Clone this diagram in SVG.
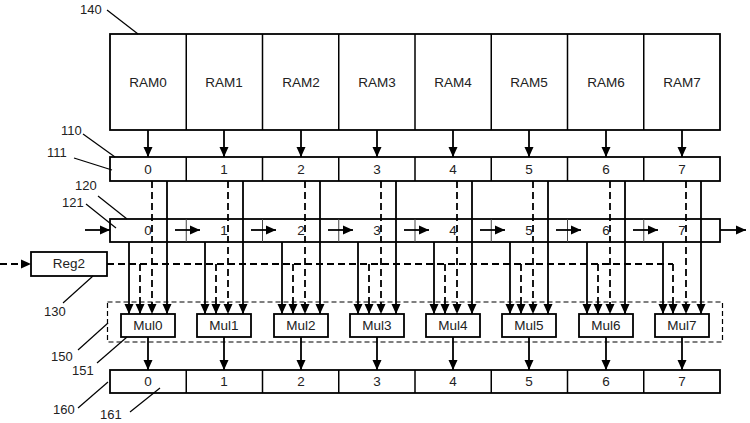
<svg xmlns="http://www.w3.org/2000/svg" width="750" height="423" viewBox="0 0 750 423">
<style>
.box{fill:#fff;stroke:#000;stroke-width:1.8}
.cell{fill:none;stroke:#000;stroke-width:1.5}
.thin{fill:none;stroke:#444;stroke-width:1}
.t{font-family:"Liberation Sans",Arial,sans-serif;font-size:13.5px;fill:#222;text-anchor:middle}
.lbl{font-family:"Liberation Sans",Arial,sans-serif;font-size:13px;fill:#222}
.sol{fill:none;stroke:#000;stroke-width:1.8}
.dsh{fill:none;stroke:#000;stroke-width:1.8;stroke-dasharray:7,4}
.lead{fill:none;stroke:#000;stroke-width:1.2}
.dbox{fill:none;stroke:#000;stroke-width:1.2;stroke-dasharray:5,3}
</style>
<defs>
<marker id="ah" markerUnits="userSpaceOnUse" markerWidth="10" markerHeight="10" refX="10" refY="5" orient="auto" viewBox="0 0 10 10">
<path d="M0,0.5 L10,5 L0,9.5 z" fill="#000"/>
</marker>
</defs>
<rect width="750" height="423" fill="#fff"/>

<g id="ram140">
<rect class="box" x="110" y="34" width="610" height="96"/>
<path class="cell" d="M186.25,34V130M262.5,34V130M338.75,34V130M415,34V130M491.25,34V130M567.5,34V130M643.75,34V130"/>
<text class="t" x="148" y="87">RAM0</text>
<text class="t" x="224" y="87">RAM1</text>
<text class="t" x="301" y="87">RAM2</text>
<text class="t" x="377" y="87">RAM3</text>
<text class="t" x="453" y="87">RAM4</text>
<text class="t" x="529" y="87">RAM5</text>
<text class="t" x="606" y="87">RAM6</text>
<text class="t" x="682" y="87">RAM7</text>
</g>

<g id="reg110">
<rect class="box" x="110" y="157" width="610" height="24"/>
<path class="cell" d="M186.25,157V181M262.5,157V181M338.75,157V181M415,157V181M491.25,157V181M567.5,157V181M643.75,157V181"/>
<text class="t" x="148" y="174">0</text>
<text class="t" x="224" y="174">1</text>
<text class="t" x="301" y="174">2</text>
<text class="t" x="377" y="174">3</text>
<text class="t" x="453" y="174">4</text>
<text class="t" x="529" y="174">5</text>
<text class="t" x="606" y="174">6</text>
<text class="t" x="682" y="174">7</text>
</g>

<g id="reg120">
<rect class="box" x="110" y="219" width="610" height="23"/>
<path class="thin" d="M186.25,219V242M262.5,219V242M338.75,219V242M415,219V242M491.25,219V242M567.5,219V242M643.75,219V242"/>
<text class="t" x="148" y="235">0</text>
<text class="t" x="224" y="235">1</text>
<text class="t" x="301" y="235">2</text>
<text class="t" x="377" y="235">3</text>
<text class="t" x="453" y="235">4</text>
<text class="t" x="529" y="235">5</text>
<text class="t" x="606" y="235">6</text>
<text class="t" x="682" y="235">7</text>
</g>

<g id="reg2">
<rect class="box" x="31" y="252" width="76" height="24"/>
<text class="t" x="69" y="268">Reg2</text>
</g>

<g id="mul150">
<rect class="dbox" x="107.5" y="302" width="615" height="40"/>
</g>

<g id="mul0"><rect class="box" x="121" y="314" width="54" height="23"/><text class="t" x="148" y="330">Mul0</text></g>
<g id="mul1"><rect class="box" x="197" y="314" width="54" height="23"/><text class="t" x="224" y="330">Mul1</text></g>
<g id="mul2"><rect class="box" x="274" y="314" width="54" height="23"/><text class="t" x="301" y="330">Mul2</text></g>
<g id="mul3"><rect class="box" x="350" y="314" width="54" height="23"/><text class="t" x="377" y="330">Mul3</text></g>
<g id="mul4"><rect class="box" x="426" y="314" width="54" height="23"/><text class="t" x="453" y="330">Mul4</text></g>
<g id="mul5"><rect class="box" x="502" y="314" width="54" height="23"/><text class="t" x="529" y="330">Mul5</text></g>
<g id="mul6"><rect class="box" x="579" y="314" width="54" height="23"/><text class="t" x="606" y="330">Mul6</text></g>
<g id="mul7"><rect class="box" x="655" y="314" width="54" height="23"/><text class="t" x="682" y="330">Mul7</text></g>

<g id="reg160">
<rect class="box" x="110" y="370" width="610" height="23"/>
<path class="cell" d="M186.25,370V393M262.5,370V393M338.75,370V393M415,370V393M491.25,370V393M567.5,370V393M643.75,370V393"/>
<text class="t" x="148" y="386">0</text>
<text class="t" x="224" y="386">1</text>
<text class="t" x="301" y="386">2</text>
<text class="t" x="377" y="386">3</text>
<text class="t" x="453" y="386">4</text>
<text class="t" x="529" y="386">5</text>
<text class="t" x="606" y="386">6</text>
<text class="t" x="682" y="386">7</text>
</g>

<g id="connectors">
<g marker-end="url(#ah)">
<path class="sol" d="M148,130V157"/>
<path class="sol" d="M224,130V157"/>
<path class="sol" d="M301,130V157"/>
<path class="sol" d="M377,130V157"/>
<path class="sol" d="M453,130V157"/>
<path class="sol" d="M529,130V157"/>
<path class="sol" d="M606,130V157"/>
<path class="sol" d="M682,130V157"/>
</g>
<g marker-end="url(#ah)">
<path class="sol" d="M85,230H110"/>
<path class="sol" d="M175,230H200"/>
<path class="sol" d="M251,230H276"/>
<path class="sol" d="M328,230H353"/>
<path class="sol" d="M404,230H429"/>
<path class="sol" d="M480,230H505"/>
<path class="sol" d="M556,230H581"/>
<path class="sol" d="M633,230H658"/>
<path class="sol" d="M720,230H746"/>
</g>
<g marker-end="url(#ah)">
<path class="sol" d="M167,181V314"/>
<path class="sol" d="M243,181V314"/>
<path class="sol" d="M320,181V314"/>
<path class="sol" d="M396,181V314"/>
<path class="sol" d="M472,181V314"/>
<path class="sol" d="M548,181V314"/>
<path class="sol" d="M625,181V314"/>
<path class="sol" d="M701,181V314"/>
</g>
<g marker-end="url(#ah)">
<path class="dsh" d="M152,181V314"/>
<path class="dsh" d="M228,181V314"/>
<path class="dsh" d="M305,181V314"/>
<path class="dsh" d="M381,181V314"/>
<path class="dsh" d="M457,181V314"/>
<path class="dsh" d="M533,181V314"/>
<path class="dsh" d="M610,181V314"/>
<path class="dsh" d="M686,181V314"/>
</g>
<g marker-end="url(#ah)">
<path class="sol" d="M129,242V314"/>
<path class="sol" d="M205,242V314"/>
<path class="sol" d="M282,242V314"/>
<path class="sol" d="M358,242V314"/>
<path class="sol" d="M434,242V314"/>
<path class="sol" d="M510,242V314"/>
<path class="sol" d="M587,242V314"/>
<path class="sol" d="M663,242V314"/>
</g>
<path class="dsh" d="M0,264H31" marker-end="url(#ah)"/>
<path class="dsh" d="M107,264H673"/>
<g marker-end="url(#ah)">
<path class="dsh" d="M140,264V314"/>
<path class="dsh" d="M216,264V314"/>
<path class="dsh" d="M293,264V314"/>
<path class="dsh" d="M369,264V314"/>
<path class="dsh" d="M445,264V314"/>
<path class="dsh" d="M521,264V314"/>
<path class="dsh" d="M598,264V314"/>
<path class="dsh" d="M673,264V314"/>
</g>
<g marker-end="url(#ah)">
<path class="sol" d="M148,337V370"/>
<path class="sol" d="M224,337V370"/>
<path class="sol" d="M301,337V370"/>
<path class="sol" d="M377,337V370"/>
<path class="sol" d="M453,337V370"/>
<path class="sol" d="M529,337V370"/>
<path class="sol" d="M606,337V370"/>
<path class="sol" d="M682,337V370"/>
</g>
</g>

<g id="labels">
<text class="lbl" x="80" y="14">140</text>
<path class="lead" d="M107,10L138,34"/>
<text class="lbl" x="61" y="135">110</text>
<path class="lead" d="M83,134L115,157"/>
<text class="lbl" x="47" y="157">111</text>
<path class="lead" d="M74,158L112,170"/>
<text class="lbl" x="75" y="190">120</text>
<path class="lead" d="M98,196L127,219"/>
<text class="lbl" x="62" y="207">121</text>
<path class="lead" d="M86,204L116,228"/>
<text class="lbl" x="44" y="316">130</text>
<path class="lead" d="M63,303L93,276"/>
<text class="lbl" x="51" y="361">150</text>
<path class="lead" d="M78,350L108,323"/>
<text class="lbl" x="72" y="375">151</text>
<path class="lead" d="M97,363L127,337"/>
<text class="lbl" x="53" y="414">160</text>
<path class="lead" d="M78,408L108,382"/>
<text class="lbl" x="100" y="419">161</text>
<path class="lead" d="M130,412L160,388"/>
</g>
</svg>
